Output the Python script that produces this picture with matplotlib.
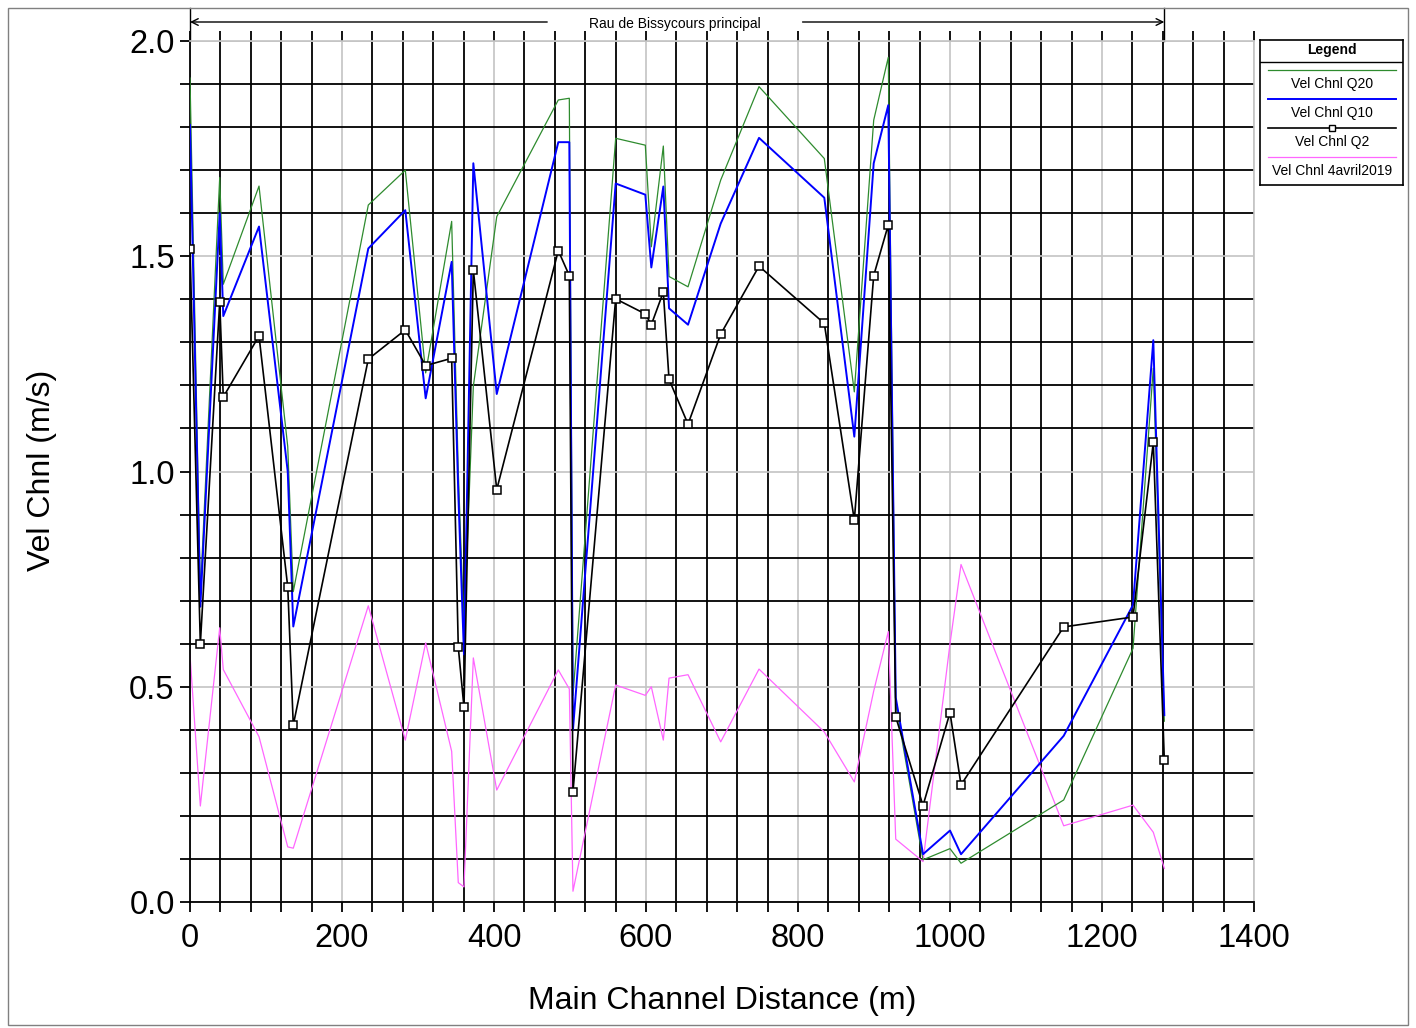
import matplotlib
matplotlib.use("Agg")
import matplotlib.pyplot as plt
from matplotlib.ticker import MultipleLocator
from matplotlib.patches import Rectangle
from matplotlib.lines import Line2D

plt.rcParams['font.family'] = ['Liberation Sans', 'DejaVu Sans']

# River stations along the main channel (m)
stations = [0, 13.6, 39.1, 43.8, 90.8, 128.6, 135.9, 234.6, 283.3, 310.1, 344.3, 353.0,
            360.5, 372.8, 403.6, 484.6, 499.1, 503.9, 560.1, 599.1, 607.0, 622.8, 630.3,
            655.3, 698.3, 748.7, 834.6, 874.1, 899.6, 918.8, 928.6, 964.5, 1000.0, 1014.5,
            1149.6, 1240.8, 1267.5, 1282.0]

# Channel velocities (m/s) for each profile
vel_q20 = [1.914, 0.715, 1.683, 1.435, 1.663, 1.058, 0.721, 1.619, 1.700, 1.229, 1.581, 1.000,
           0.630, 1.198, 1.592, 1.863, 1.867, 0.480, 1.774, 1.758, 1.522, 1.756, 1.453,
           1.429, 1.677, 1.894, 1.727, 1.185, 1.816, 1.962, 0.460, 0.098, 0.124, 0.090,
           0.237, 0.589, 1.240, 0.420]
vel_q10 = [1.805, 0.686, 1.600, 1.361, 1.569, 1.000, 0.640, 1.518, 1.607, 1.170, 1.487, 0.950,
           0.575, 1.716, 1.180, 1.765, 1.765, 0.400, 1.669, 1.643, 1.474, 1.662, 1.379,
           1.341, 1.576, 1.775, 1.636, 1.081, 1.716, 1.851, 0.475, 0.111, 0.166, 0.111,
           0.386, 0.690, 1.305, 0.434]
vel_q2 = [1.518, 0.599, 1.394, 1.173, 1.315, 0.732, 0.411, 1.261, 1.329, 1.246, 1.263, 0.592,
          0.452, 1.468, 0.958, 1.513, 1.455, 0.256, 1.401, 1.366, 1.341, 1.417, 1.214,
          1.110, 1.319, 1.477, 1.344, 0.887, 1.455, 1.573, 0.430, 0.224, 0.440, 0.272,
          0.639, 0.662, 1.068, 0.329]
vel_apr2019 = [0.574, 0.223, 0.637, 0.540, 0.384, 0.128, 0.125, 0.688, 0.376, 0.602, 0.350, 0.045,
               0.035, 0.567, 0.260, 0.539, 0.495, 0.025, 0.504, 0.480, 0.500, 0.376, 0.520,
               0.528, 0.372, 0.541, 0.395, 0.279, 0.490, 0.628, 0.146, 0.094, 0.600, 0.784,
               0.177, 0.225, 0.162, 0.078]

series_labels = ["Vel Chnl Q20", "Vel Chnl Q10", "Vel Chnl Q2", "Vel Chnl 4avril2019"]
reach_name = "Rau de Bissycours principal"

W, H = 1416, 1028
fig = plt.figure(figsize=(W / 100, H / 100), dpi=100)

def fx(px):
    return px / W

def fy(py):
    return 1 - py / H

# outer frame
fig.patches.append(Rectangle((fx(8), fy(1025)), fx(1408) - fx(8), fy(8) - fy(1025),
                             transform=fig.transFigure, fill=False, edgecolor='#808080',
                             linewidth=1.0))

ax = fig.add_axes([fx(190), fy(902), fx(1254) - fx(190), fy(41) - fy(902)])
ax.set_xlim(0, 1400)
ax.set_ylim(0, 2.0)

ax.xaxis.set_major_locator(MultipleLocator(200))
ax.xaxis.set_minor_locator(MultipleLocator(40))
ax.yaxis.set_major_locator(MultipleLocator(0.5))
ax.yaxis.set_minor_locator(MultipleLocator(0.1))
ax.yaxis.set_major_formatter(matplotlib.ticker.FormatStrFormatter('%.1f'))

ax.set_axisbelow(True)
ax.grid(which='major', color='#c4c4c4', linewidth=1.2)
ax.grid(which='minor', color='black', linewidth=1.3)

ax.tick_params(which='both', direction='out', length=7, width=1.3, color='black',
               top=True, bottom=True, left=True, right=False, labelsize=23.5)
ax.tick_params(axis='x', pad=8)
ax.tick_params(axis='y', pad=4)

for side in ('left', 'bottom'):
    ax.spines[side].set_color('black')
    ax.spines[side].set_linewidth(1.3)
for side in ('top', 'right'):
    ax.spines[side].set_color('#c4c4c4')
    ax.spines[side].set_linewidth(1.2)

ln_q20, = ax.plot(stations, vel_q20, color='#2e8b2e', linewidth=0.9, zorder=3)
ln_q10, = ax.plot(stations, vel_q10, color='#0000ff', linewidth=1.4, zorder=4)
ln_q2, = ax.plot(stations, vel_q2, color='black', linewidth=1.2, marker='s', markersize=5.5,
                 markerfacecolor='white', markeredgecolor='black', markeredgewidth=1.1, zorder=5)
ln_apr, = ax.plot(stations, vel_apr2019, color='#ff66ff', linewidth=0.9, zorder=2)

fig.text(fx(722), fy(1001), "Main Channel Distance (m)", fontsize=23, ha='center', va='center')
fig.text(fx(42), fy(470), "Vel Chnl (m/s)", fontsize=23, ha='center', va='center', rotation=90)

# reach extent bracket above the plot
trans = matplotlib.transforms.blended_transform_factory(ax.transData, fig.transFigure)
x0, x1 = stations[0], stations[-1]
for xv in (x0, x1):
    ax.add_line(Line2D([xv, xv], [fy(8), fy(41)], transform=trans, color='black',
                       linewidth=1.0, clip_on=False))
ax.annotate("", xy=(x0, fy(22)), xytext=(470, fy(22)), xycoords=trans, textcoords=trans,
            arrowprops=dict(arrowstyle='->', color='black', lw=1.0, shrinkA=0, shrinkB=0,
                            mutation_scale=12), annotation_clip=False)
ax.annotate("", xy=(x1, fy(22)), xytext=(806, fy(22)), xycoords=trans, textcoords=trans,
            arrowprops=dict(arrowstyle='->', color='black', lw=1.0, shrinkA=0, shrinkB=0,
                            mutation_scale=12), annotation_clip=False)
ax.text(638, fy(24), reach_name, transform=trans, ha='center', va='center', fontsize=10)

# legend box
lg = fig.add_axes([fx(1260), fy(185), fx(1403) - fx(1260), fy(40) - fy(185)])
lg.set_xlim(1260, 1403)
lg.set_ylim(185, 40)
lg.set_xticks([])
lg.set_yticks([])
for s in lg.spines.values():
    s.set_color('black')
    s.set_linewidth(1.2)
lg.text(1332, 50, "Legend", ha='center', va='center', fontsize=10, fontweight='bold')
lg.plot([1260, 1403], [62, 62], color='black', linewidth=1.0)
handles = [ln_q20, ln_q10, ln_q2, ln_apr]
line_y = [70, 99, 128, 157]
for h, ly, lab in zip(handles, line_y, series_labels):
    lg.plot([1268, 1396], [ly, ly], color=h.get_color(), linewidth=h.get_linewidth())
    if h.get_marker() not in (None, 'None', ''):
        lg.plot([1332], [ly], marker='s', markersize=4, markerfacecolor='white',
                markeredgecolor='black', markeredgewidth=1.0)
    lg.text(1332, ly + 14, lab, ha='center', va='center', fontsize=10)

fig.savefig("out.png", dpi=100)
